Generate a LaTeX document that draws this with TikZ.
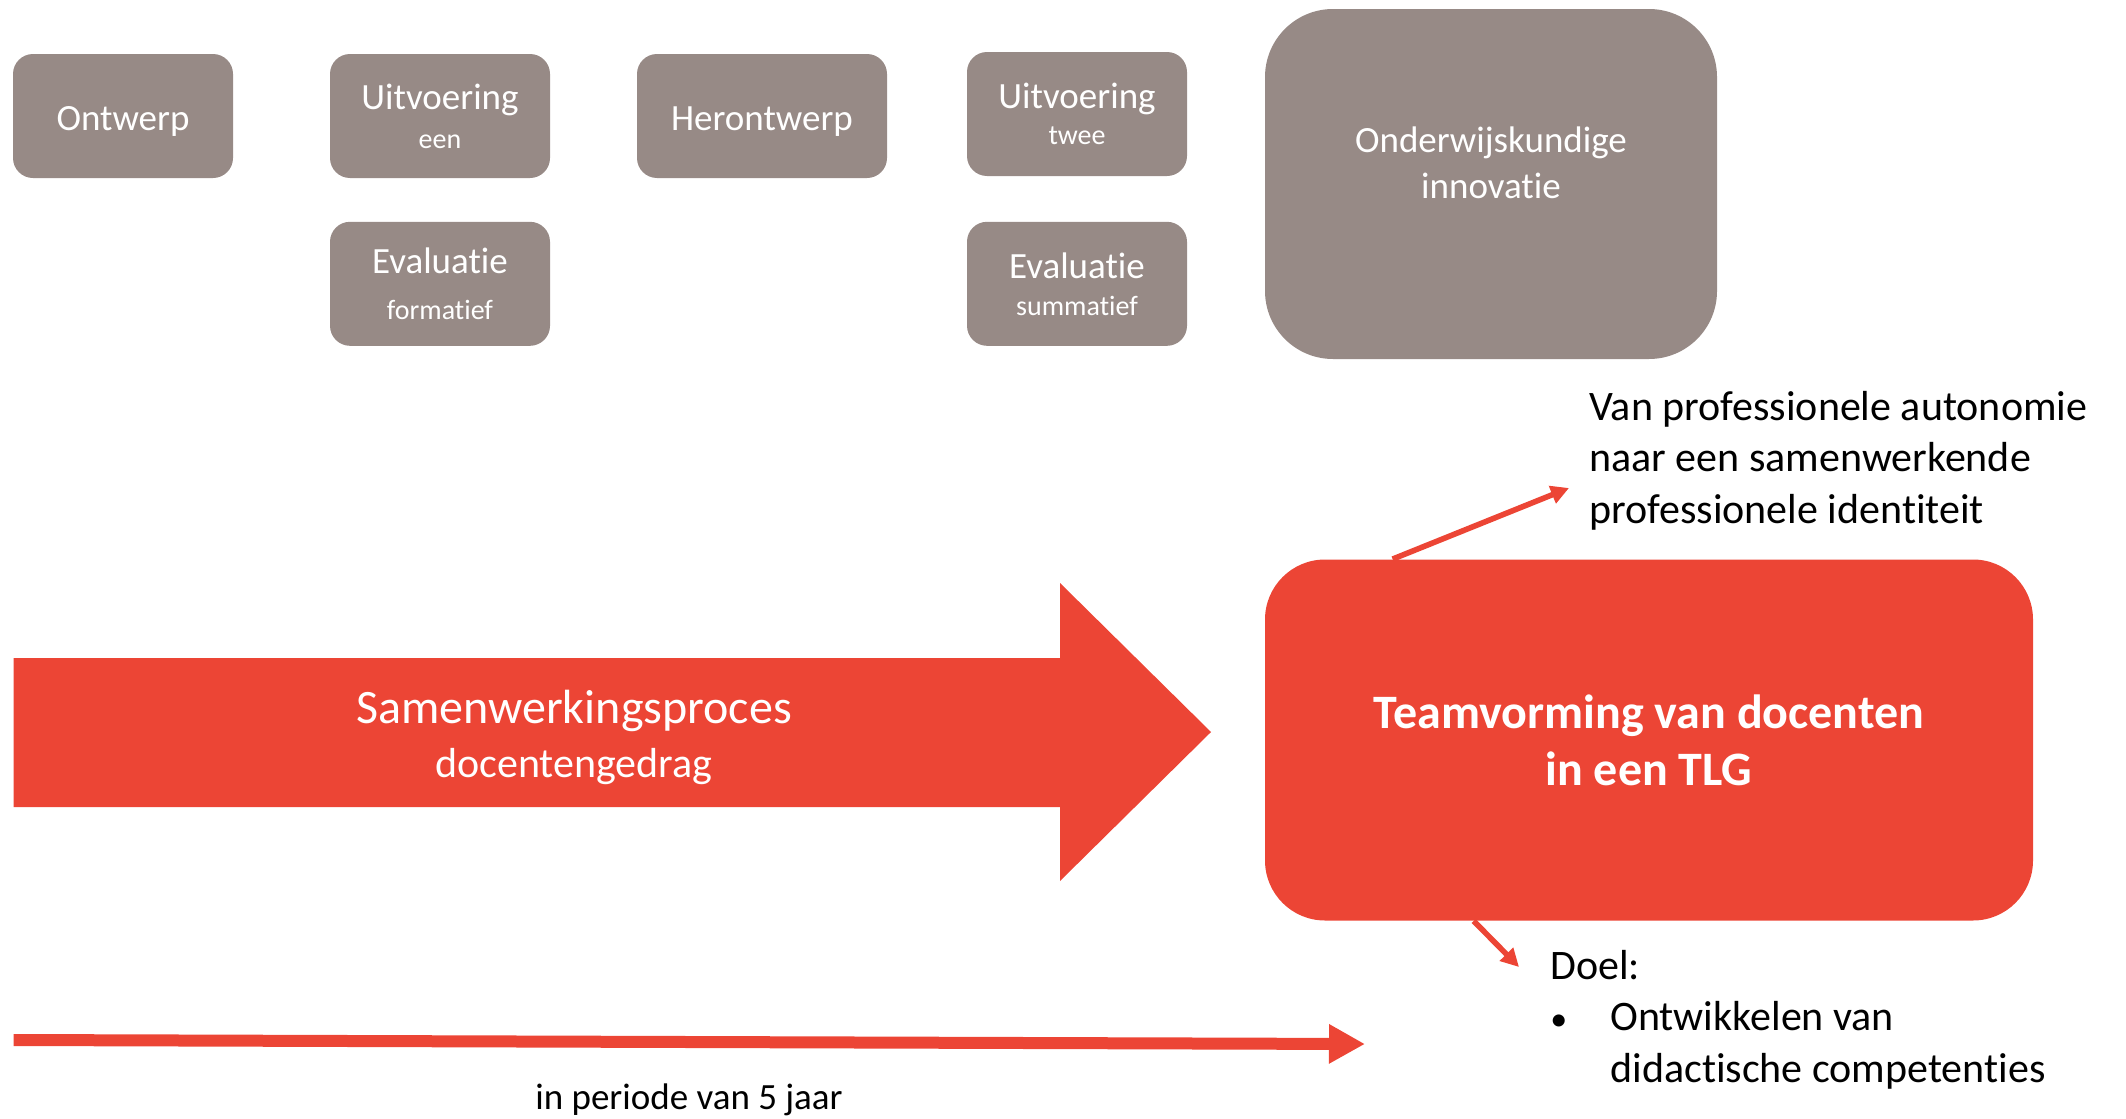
\documentclass[tikz,border=0pt]{standalone}
\usepackage{fontspec}
\setmainfont{Carlito}[Ligatures=NoCommon]
\usepackage{tikz}
\usetikzlibrary{positioning}
\usetikzlibrary{arrows.meta}
\definecolor{grijs}{RGB}{151,138,134}
\definecolor{rood}{RGB}{236,69,53}

\begin{document}
\begin{tikzpicture}[x=0.5pt,y=-0.5pt,
    stap/.style={fill=grijs,text=white,rounded corners=10pt,minimum width=110pt,minimum height=62pt,inner sep=0pt,align=center,font=\fontsize{18.5}{20}\selectfont},
    enkel/.style={text height=18pt,text depth=4pt},
    pijl/.style={draw=rood,line width=2.8pt,-{Triangle[length=9pt,width=9pt]}},
    tekst/.style={inner sep=0pt,align=left,font=\fontsize{21}{25.6}\selectfont}]
\useasboundingbox (0,0) rectangle (2126,1119);
% ontwerpcyclus
\node[stap,enkel] (ontwerp) at (123,116) {Ontwerp};
\node[stap] (uitv1) at (440,116) {Uitvoering\\[-0.5pt]{\fontsize{14}{16}\selectfont een}};
\node[stap,below=21.5pt of uitv1] (eval1) {Evaluatie\\[3pt]{\fontsize{14}{16}\selectfont formatief}};
\node[stap,enkel,minimum width=125pt] (herontwerp) at (762,116) {Herontwerp};
\node[stap] (uitv2) at (1077,114) {Uitvoering\\[-2pt]{\fontsize{14}{16}\selectfont twee}};
\node[stap,below=22.5pt of uitv2] (eval2) {Evaluatie\\[-1.5pt]{\fontsize{14}{16}\selectfont summatief}};
\node[stap,minimum width=226pt,minimum height=175pt,rounded corners=34pt] (innovatie) at (1491,184) {};
\node[text=white,align=center,font=\fontsize{18.5}{23}\selectfont] (innovatietekst) at ([yshift=10.5pt]innovatie.center) {Onderwijskundige\\innovatie};
% samenwerking
\fill[rood] (13.6,658) -- (1060,658) -- (1060,583) -- (1211,732) -- (1060,881) -- (1060,807) -- (13.6,807) -- cycle;
\node[text=white,align=center,font=\fontsize{24}{27}\selectfont] (samenwerking) at (574,737) {Samenwerkingsproces\\{\fontsize{21}{24}\selectfont docentengedrag}};
\node[fill=rood,text=white,rounded corners=30pt,minimum width=384pt,minimum height=180.5pt,align=center,font=\bfseries\fontsize{24}{28.5}\selectfont] (team) at (1649,740) {Teamvorming van docenten\\in een TLG};
\node[tekst,anchor=base west] (identiteit) at (1589,523) {Van professionele autonomie\\naar een samenwerkende\\professionele identiteit};
\node[tekst,anchor=base west] (doel) at (1550,1082) {Doel:\\\makebox[30pt][l]{{\fontsize{17}{17}\selectfont\textbullet}}Ontwikkelen van\\\hspace*{30pt}didactische competenties};
\coordinate (kop1) at (1569,488);
\coordinate (kop2) at (1519,967);
\draw[pijl] ([xshift=64pt]team.north west) -- (kop1);
\draw[pijl] ([xshift=104.5pt]team.south west) -- (kop2);
% tijdlijn
\coordinate (tijd0) at (13.6,1040);
\coordinate (tijd1) at (1365,1044);
\draw[rood,line width=6pt,-{Triangle[length=18pt,width=18.5pt]}] (tijd0) -- (tijd1);
\node[font=\fontsize{18.5}{20}\selectfont] (periode) at (689,1100) {in periode van 5 jaar};
\end{tikzpicture}
\end{document}
